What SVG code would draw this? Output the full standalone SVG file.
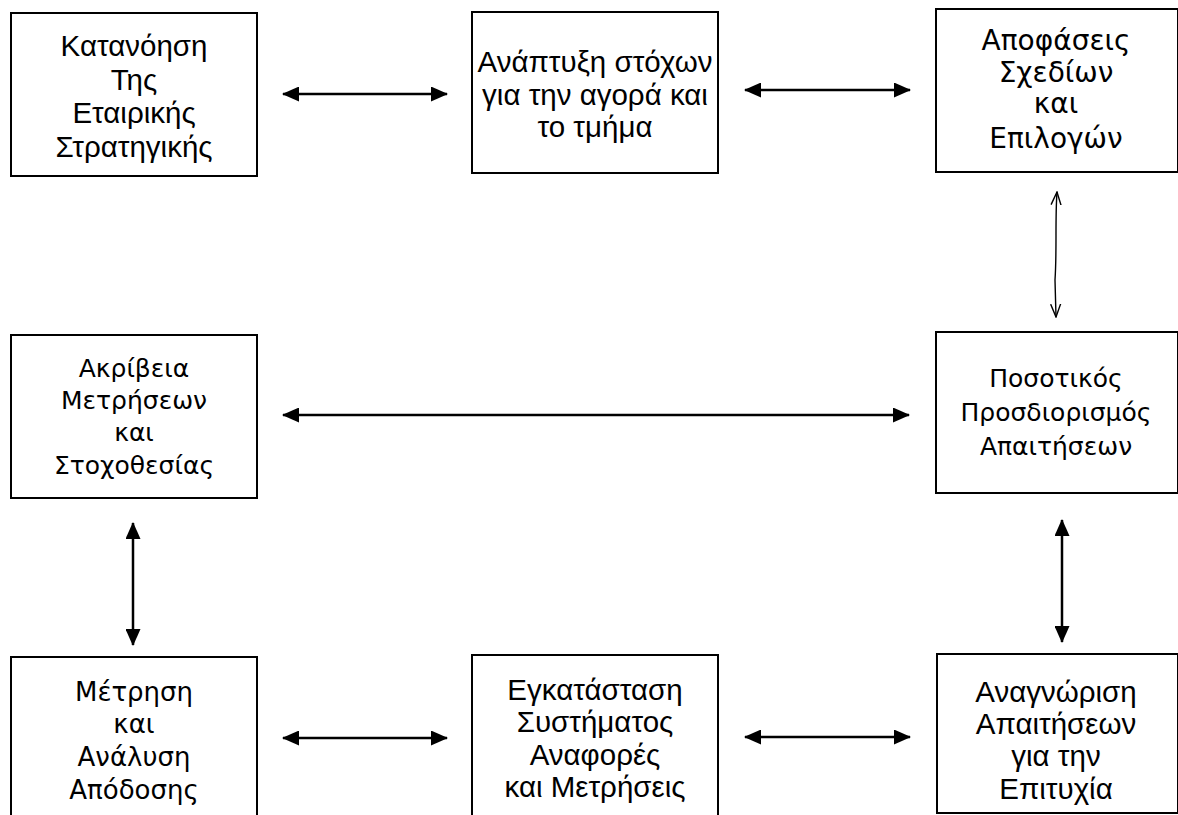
<svg xmlns="http://www.w3.org/2000/svg" width="1178" height="815" viewBox="0 0 1178 815">
  <style>
    .box { fill: #fff; stroke: #000; stroke-width: 2; }
    .a { font-family: "Liberation Sans", Arial, sans-serif; font-size: 29.5px; fill: #000; text-anchor: middle; }
    .v { font-family: "DejaVu Sans", Verdana, sans-serif; font-size: 25px; fill: #000; text-anchor: middle; }
    .big { font-size: 28px; }
    .mid { font-size: 26px; }
    .link { fill: none; stroke: #000; stroke-width: 2.5; marker-start: url(#headStart); marker-end: url(#headEnd); }
    .thin { fill: none; stroke: #000; stroke-width: 1.4; marker-start: url(#openStart); marker-end: url(#openEnd); }
  </style>
  <defs>
    <marker id="headEnd" markerUnits="userSpaceOnUse" viewBox="0 0 17 15" refX="16" refY="7.5" markerWidth="17" markerHeight="15" orient="auto">
      <path d="M0,0 L17,7.5 L0,15 Z" fill="#000"/>
    </marker>
    <marker id="headStart" markerUnits="userSpaceOnUse" viewBox="0 0 17 15" refX="1" refY="7.5" markerWidth="17" markerHeight="15" orient="auto">
      <path d="M17,0 L0,7.5 L17,15 Z" fill="#000"/>
    </marker>
    <marker id="openEnd" markerUnits="userSpaceOnUse" viewBox="0 0 14 12" refX="13" refY="6" markerWidth="14" markerHeight="12" orient="auto">
      <path d="M0,1 L13,6 L0,11" fill="none" stroke="#000" stroke-width="1.4"/>
    </marker>
    <marker id="openStart" markerUnits="userSpaceOnUse" viewBox="0 0 14 12" refX="1" refY="6" markerWidth="14" markerHeight="12" orient="auto">
      <path d="M14,1 L1,6 L14,11" fill="none" stroke="#000" stroke-width="1.4"/>
    </marker>
  </defs>

  <rect width="1178" height="815" fill="#fff"/>

  <g id="connectors">
    <line class="link" x1="283" y1="94" x2="447" y2="94"/>
    <line class="link" x1="745" y1="90" x2="910" y2="90"/>
    <path class="thin" d="M1057,192 C1055,220 1057,250 1055,280 L1056,317"/>
    <line class="link" x1="283" y1="415" x2="909" y2="415"/>
    <line class="link" x1="1062" y1="520" x2="1062" y2="642"/>
    <line class="link" x1="133" y1="523" x2="133" y2="645"/>
    <line class="link" x1="283" y1="738" x2="447" y2="738"/>
    <line class="link" x1="745" y1="737" x2="910" y2="737"/>
  </g>

  <g id="strategy">
    <rect class="box" x="11" y="13" width="246" height="163"/>
    <text class="a" x="134" y="56">Κατανόηση</text>
    <text class="a" x="134" y="90">Της</text>
    <text class="a" x="134" y="123">Εταιρικής</text>
    <text class="a" x="134" y="157">Στρατηγικής</text>
  </g>

  <g id="goals">
    <rect class="box" x="472" y="12" width="246" height="161"/>
    <text class="a" x="595" y="72">Ανάπτυξη στόχων</text>
    <text class="a" x="595" y="105">για την αγορά και</text>
    <text class="a" x="595" y="137">το τμήμα</text>
  </g>

  <g id="decisions">
    <rect class="box" x="936" y="9" width="242" height="163"/>
    <text class="v big" x="1056" y="50">Αποφάσεις</text>
    <text class="v big" x="1056" y="82">Σχεδίων</text>
    <text class="v big" x="1056" y="113">και</text>
    <text class="v big" x="1056" y="148">Επιλογών</text>
  </g>

  <g id="accuracy">
    <rect class="box" x="11" y="335" width="246" height="163"/>
    <text class="v" x="134" y="377">Ακρίβεια</text>
    <text class="v" x="134" y="409">Μετρήσεων</text>
    <text class="v" x="134" y="441">και</text>
    <text class="v" x="134" y="474">Στοχοθεσίας</text>
  </g>

  <g id="quantify">
    <rect class="box" x="936" y="332" width="242" height="161"/>
    <text class="v" x="1056" y="387">Ποσοτικός</text>
    <text class="v" x="1056" y="421">Προσδιορισμός</text>
    <text class="v" x="1056" y="455">Απαιτήσεων</text>
  </g>

  <g id="measure">
    <rect class="box" x="11" y="657" width="246" height="170"/>
    <text class="v mid" x="134" y="701">Μέτρηση</text>
    <text class="v mid" x="134" y="733">και</text>
    <text class="v mid" x="134" y="766">Ανάλυση</text>
    <text class="v mid" x="134" y="799">Απόδοσης</text>
  </g>

  <g id="system">
    <rect class="box" x="472" y="655" width="246" height="170"/>
    <text class="a" x="595" y="700">Εγκατάσταση</text>
    <text class="a" x="595" y="732">Συστήματος</text>
    <text class="a" x="595" y="765">Αναφορές</text>
    <text class="a" x="595" y="797">και Μετρήσεις</text>
  </g>

  <g id="success">
    <rect class="box" x="937" y="654" width="241" height="159"/>
    <text class="a" x="1056" y="702">Αναγνώριση</text>
    <text class="a" x="1056" y="734">Απαιτήσεων</text>
    <text class="a" x="1056" y="766">για την</text>
    <text class="a" x="1056" y="799">Επιτυχία</text>
  </g>
</svg>
